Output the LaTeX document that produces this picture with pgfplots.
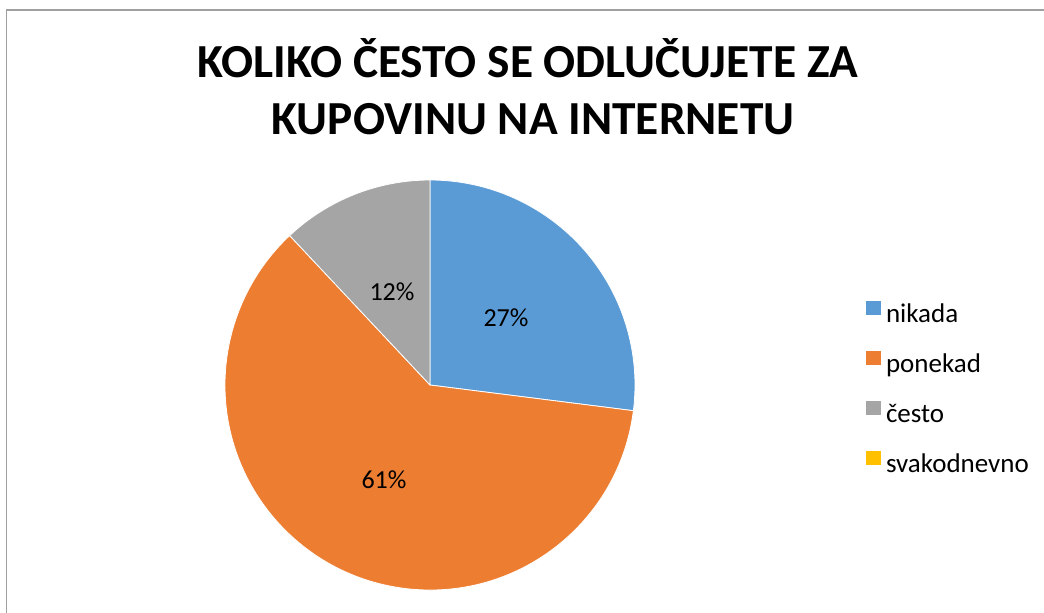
\documentclass[border=0pt]{standalone}
\usepackage{pgfplots}
\pgfplotsset{compat=1.18}
\usepackage{fontspec}
\setmainfont{Carlito}
\definecolor{pieblue}{HTML}{5B9BD5}
\definecolor{pieorange}{HTML}{ED7D31}
\definecolor{piegray}{HTML}{A5A5A5}
\definecolor{pieyellow}{HTML}{FFC000}
\definecolor{framegray}{HTML}{A0A0A0}
\begin{document}
\begin{tikzpicture}
\useasboundingbox (0,0) rectangle (522pt,306pt);
\begin{axis}[
  at={(0,0)}, anchor=south west,
  scale only axis, width=522pt, height=306pt,
  xmin=0, xmax=1044, ymin=0, ymax=612, y dir=reverse,
  hide axis,
  legend image code/.code={\fill[#1, draw=none] (0pt,0pt) rectangle (7.5pt,7.2pt);},
  legend style={draw=none, fill=none, inner sep=0pt, outer sep=0pt,
    at={(axis cs:866,301)}, anchor=north west,
    font=\fontsize{13.5}{16}\selectfont,
    row sep=14.3pt, column sep=2.5pt,
    nodes={inner sep=0pt, outer sep=0pt, text height=7pt, text depth=0pt}},
  legend cell align=left,
]
% frame
\draw[framegray, line width=0.75pt] (axis cs:6.5,700) -- (axis cs:6.5,10) -- (axis cs:1100,10);
% pie slices: nikada 27, ponekad 61, cesto 12, svakodnevno 0 (percent)
\fill[pieblue, draw=white, line width=0.4pt] (axis cs:430,385) -- ++(90:102.5pt)
  arc[start angle=90, delta angle={-27*3.6}, radius=102.5pt] -- cycle;
\fill[pieorange, draw=white, line width=0.4pt] (axis cs:430,385) -- ++({90-27*3.6}:102.5pt)
  arc[start angle={90-27*3.6}, delta angle={-61*3.6}, radius=102.5pt] -- cycle;
\fill[piegray, draw=white, line width=0.4pt] (axis cs:430,385) -- ++({90-88*3.6}:102.5pt)
  arc[start angle={90-88*3.6}, delta angle={-12*3.6}, radius=102.5pt] -- cycle;
% labels
\node[font=\fontsize{13}{15}\selectfont] at (axis cs:506,318) {27\%};
\node[font=\fontsize{13}{15}\selectfont] at (axis cs:384,480) {61\%};
\node[font=\fontsize{13}{15}\selectfont] at (axis cs:392,292) {12\%};
% title
\node[font=\bfseries\fontsize{23.7}{28}\selectfont, anchor=base, inner sep=0pt] at (axis cs:528,77) {KOLIKO ČESTO SE ODLUČUJETE ZA};
\node[font=\bfseries\fontsize{23.7}{28}\selectfont, anchor=base, inner sep=0pt] at (axis cs:533,134) {KUPOVINU NA INTERNETU};
% legend
\addlegendimage{fill=pieblue}
\addlegendentry{nikada}
\addlegendimage{fill=pieorange}
\addlegendentry{ponekad}
\addlegendimage{fill=piegray}
\addlegendentry{često}
\addlegendimage{fill=pieyellow}
\addlegendentry{svakodnevno}
\end{axis}
\end{tikzpicture}
\end{document}
